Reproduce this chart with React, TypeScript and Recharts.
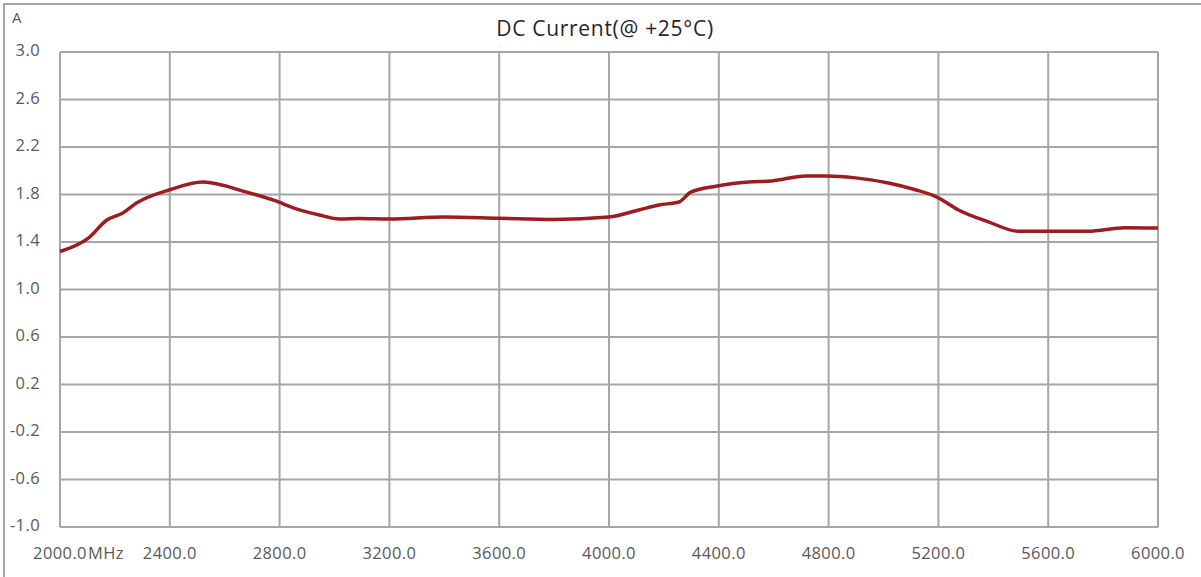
import React from 'react';
import { LineChart, Line, XAxis, YAxis, CartesianGrid } from 'recharts';

const freqs = [2000, 2102, 2171, 2229, 2280, 2400, 2520, 2680, 2775, 2873, 2945, 3018, 3091, 3200, 3400, 3600, 3800, 4000, 4109, 4182, 4255, 4298, 4389, 4509, 4593, 4716, 4793, 4898, 5018, 5116, 5193, 5273, 5382, 5491, 5589, 5745, 5880, 6000];
const current = [1.32, 1.43, 1.585, 1.644, 1.73, 1.84, 1.905, 1.82, 1.754, 1.67, 1.627, 1.594, 1.598, 1.594, 1.61, 1.60, 1.59, 1.61, 1.67, 1.712, 1.737, 1.82, 1.87, 1.905, 1.914, 1.956, 1.956, 1.94, 1.897, 1.84, 1.78, 1.67, 1.57, 1.49, 1.49, 1.49, 1.52, 1.517];
const xTicks = [2000, 2400, 2800, 3200, 3600, 4000, 4400, 4800, 5200, 5600, 6000];
const yTicks = [-1.0, -0.6, -0.2, 0.2, 0.6, 1.0, 1.4, 1.8, 2.2, 2.6, 3.0];
const title = 'DC Current(@ +25°C)';
const yUnit = 'A';
const xUnit = 'MHz';

const data = freqs.map((f, i) => ({ f, v: current[i] }));

const FONT = "'Open Sans', 'Noto Sans', sans-serif";
const TICK_COLOR = '#595959';
const TICK_SIZE = 16.5;

const XTick = (props: any) => {
  const { x, y, payload, index } = props;
  const label = Number(payload.value).toFixed(1);
  if (index === 0) {
    return (
      <g>
        <text x={x} y={y + 20} textAnchor="middle" dominantBaseline="middle" fontSize={TICK_SIZE} letterSpacing={0.4} fill={TICK_COLOR} fontFamily={FONT}>{label}</text>
        <text x={x + 28} y={y + 20} textAnchor="start" dominantBaseline="middle" fontSize={TICK_SIZE} letterSpacing={0.4} fill={TICK_COLOR} fontFamily={FONT}>{xUnit}</text>
      </g>
    );
  }
  return (
    <text x={x} y={y + 20} textAnchor="middle" dominantBaseline="middle" fontSize={TICK_SIZE} letterSpacing={0.4} fill={TICK_COLOR} fontFamily={FONT}>{label}</text>
  );
};

const YTick = (props: any) => {
  const { y, payload } = props;
  return (
    <text x={40} y={y} textAnchor="end" dominantBaseline="middle" fontSize={TICK_SIZE} letterSpacing={0.4} fill={TICK_COLOR} fontFamily={FONT}>{Number(payload.value).toFixed(1)}</text>
  );
};

export default function App() {
  return (
    <div style={{ position: 'fixed', left: 0, top: 0, width: 1201, height: 577, background: '#fff' }}>
      <LineChart width={1201} height={577} data={data} margin={{ top: 52, right: 43, bottom: 0, left: 0 }}>
        <rect x={4} y={4} width={1210} height={590} fill="none" stroke="#a6a6a6" strokeWidth={2} />
        <text x={605} y={30} textAnchor="middle" dominantBaseline="middle" fontSize={21} letterSpacing={0.7} fill="#262626" fontFamily={FONT}>{title}</text>
        <text x={12} y={19} textAnchor="start" dominantBaseline="middle" fontSize={15} fill={TICK_COLOR} fontFamily={FONT}>{yUnit}</text>
        <CartesianGrid stroke="#a6a6a6" strokeWidth={2} horizontalValues={yTicks} verticalValues={xTicks} />
        <XAxis dataKey="f" type="number" domain={[2000, 6000]} ticks={xTicks} axisLine={false} tickLine={false} height={50} tick={<XTick />} interval={0} />
        <YAxis type="number" domain={[-1, 3]} ticks={yTicks} axisLine={false} tickLine={false} width={60} tick={<YTick />} interval={0} />
        <Line type="monotone" dataKey="v" stroke="#9e1b20" strokeWidth={3.5} dot={false} isAnimationActive={false} />
      </LineChart>
    </div>
  );
}
